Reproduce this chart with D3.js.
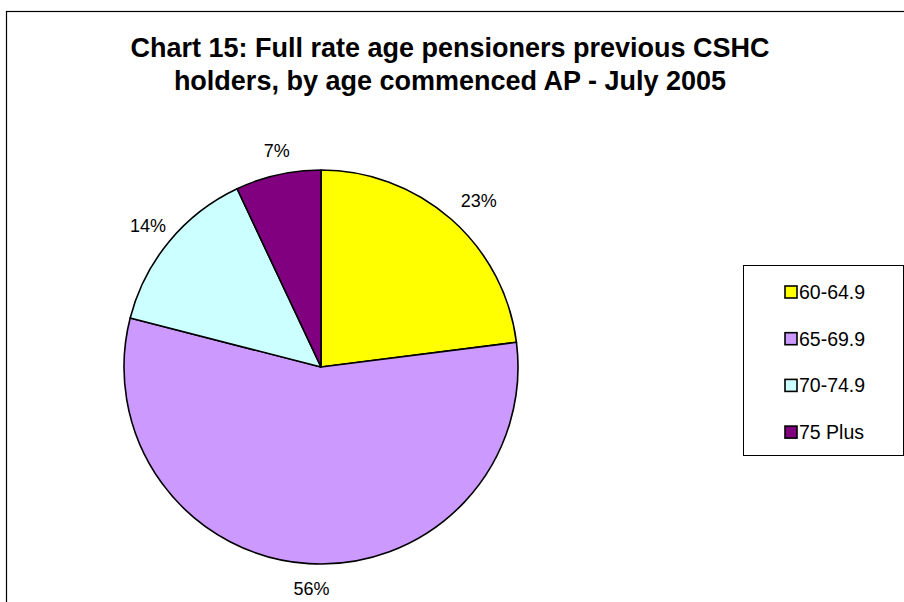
<!DOCTYPE html>
<html>
<head>
<meta charset="utf-8">
<script src="https://cdn.jsdelivr.net/npm/d3@7/dist/d3.min.js"></script>
<style>
  html, body { margin: 0; padding: 0; background: #fff; }
  svg { display: block; }
  text { font-family: "Liberation Sans", Arial, sans-serif; }
</style>
</head>
<body>
<svg id="chart" width="904" height="602"></svg>
<script>
// Age groups at which age pension commenced, and their shares (%)
const categories = ["60-64.9", "65-69.9", "70-74.9", "75 Plus"];
const shares = [23, 56, 14, 7];
const colors = ["#FFFF00", "#CC99FF", "#CCFFFF", "#800080"];
const titleLines = [
  "Chart 15: Full rate age pensioners previous CSHC",
  "holders, by age commenced AP - July 2005"
];

const svg = d3.select("#chart");

// Outer chart frame
svg.append("rect")
  .attr("x", 6.5).attr("y", 11.5)
  .attr("width", 910).attr("height", 610)
  .attr("fill", "#fff").attr("stroke", "#000").attr("stroke-width", 1.2);

// Title
svg.append("g")
  .selectAll("text")
  .data(titleLines)
  .join("text")
  .attr("x", 450)
  .attr("y", (d, i) => 57 + i * 33)
  .attr("text-anchor", "middle")
  .attr("font-size", 27)
  .attr("font-weight", "bold")
  .text(d => d);

// Pie
const cx = 321, cy = 367, r = 197;
const data = categories.map((c, i) => ({ cat: c, value: shares[i], color: colors[i] }));
const pie = d3.pie().value(d => d.value).sort(null);
const arcs = pie(data);
const arc = d3.arc().innerRadius(0).outerRadius(r);
const labelR = r + 16;
const labelFont = 18;

const g = svg.append("g").attr("transform", `translate(${cx},${cy})`);
g.selectAll("path")
  .data(arcs)
  .join("path")
  .attr("d", arc)
  .attr("fill", d => d.data.color)
  .attr("stroke", "#000")
  .attr("stroke-width", 1.6)
  .attr("stroke-linejoin", "round");

// Percentage labels sit just outside the rim; the label box is pushed
// outward so that its nearest edge touches the anchor point.
const labels = g.selectAll("text")
  .data(arcs)
  .join("text")
  .attr("text-anchor", "middle")
  .attr("dy", "0.35em")
  .attr("font-size", labelFont)
  .text(d => d.data.value + "%");

labels.attr("transform", function(d) {
  const a = (d.startAngle + d.endAngle) / 2;
  const w = this.getComputedTextLength();
  const h = labelFont;
  const ax = labelR * Math.sin(a), ay = -labelR * Math.cos(a);
  const x = ax + (w / 2) * Math.sin(a) + 5;
  const y = ay - (h / 2) * Math.cos(a);
  return `translate(${x},${y})`;
});

// Legend
const legend = svg.append("g");
legend.append("rect")
  .attr("x", 743.5).attr("y", 265.5)
  .attr("width", 160).attr("height", 190)
  .attr("fill", "#fff").attr("stroke", "#000").attr("stroke-width", 1);

const items = legend.selectAll("g.item")
  .data(data)
  .join("g")
  .attr("class", "item")
  .attr("transform", (d, i) => `translate(785,${292 + i * 46.7})`);
items.append("rect")
  .attr("x", 0).attr("y", -6)
  .attr("width", 12).attr("height", 12)
  .attr("fill", d => d.color)
  .attr("stroke", "#000").attr("stroke-width", 1.6);
items.append("text")
  .attr("x", 14)
  .attr("dy", "0.36em")
  .attr("font-size", 19.5)
  .text(d => d.cat);
</script>
</body>
</html>
